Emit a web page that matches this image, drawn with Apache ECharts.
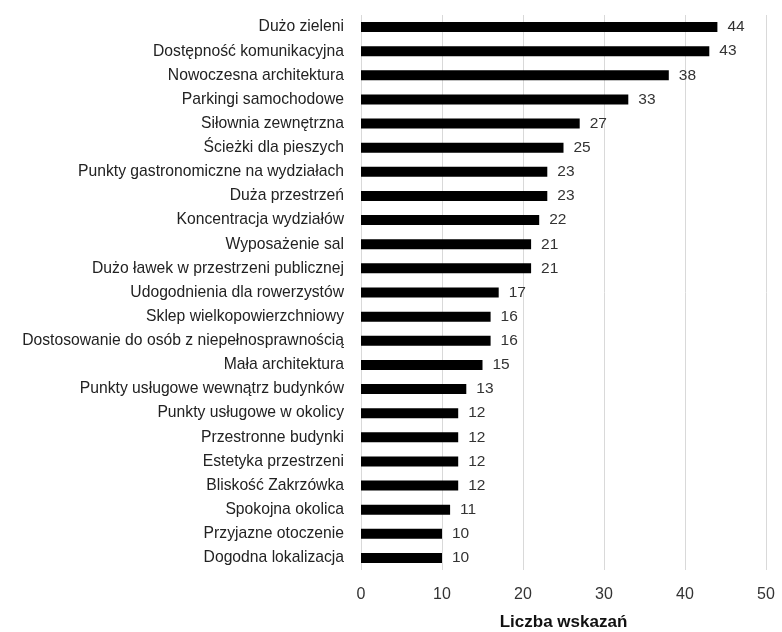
<!DOCTYPE html>
<html><head><meta charset="utf-8">
<script src="https://cdn.jsdelivr.net/npm/echarts@6/dist/echarts.min.js"></script>
<style>html,body{margin:0;padding:0;background:#fff}#c{width:782px;height:632px}</style>
</head><body><div id="c"></div>
<script>
const categories = ["Dużo zieleni","Dostępność komunikacyjna","Nowoczesna architektura","Parkingi samochodowe","Siłownia zewnętrzna","Ścieżki dla pieszych","Punkty gastronomiczne na wydziałach","Duża przestrzeń","Koncentracja wydziałów","Wyposażenie sal","Dużo ławek w przestrzeni publicznej","Udogodnienia dla rowerzystów","Sklep wielkopowierzchniowy","Dostosowanie do osób z niepełnosprawnością","Mała architektura","Punkty usługowe wewnątrz budynków","Punkty usługowe w okolicy","Przestronne budynki","Estetyka przestrzeni","Bliskość Zakrzówka","Spokojna okolica","Przyjazne otoczenie","Dogodna lokalizacja"];
const values = [44,43,38,33,27,25,23,23,22,21,21,17,16,16,15,13,12,12,12,12,11,10,10];
const axisName = "Liczba wskazań";
const chart = echarts.init(document.getElementById('c'), null, {renderer:'canvas'});
chart.setOption({
  animation:false,
  textStyle:{fontFamily:'Liberation Sans, Arial, sans-serif'},
  grid:{left:361,right:16,top:15,bottom:62,containLabel:false,outerBoundsMode:'none'},
  xAxis:{type:'value',min:0,max:50,interval:10,
    name:axisName,nameLocation:'middle',nameGap:44,
    nameTextStyle:{fontSize:17,fontWeight:'bold',color:'#111'},
    axisLine:{show:false},axisTick:{show:false},
    axisLabel:{fontSize:16,color:'#333',margin:17},
    splitLine:{lineStyle:{color:'#d9d9d9',width:1}}},
  yAxis:{type:'category',data:categories,inverse:true,
    axisLine:{show:false},axisTick:{show:false},
    axisLabel:{fontSize:15.7,color:'#222',margin:17}},
  series:[{type:'bar',data:values,barWidth:10,itemStyle:{color:'#000'},
    label:{show:true,position:'right',distance:10,fontSize:15.5,color:'#333'}}]
});
</script></body></html>
